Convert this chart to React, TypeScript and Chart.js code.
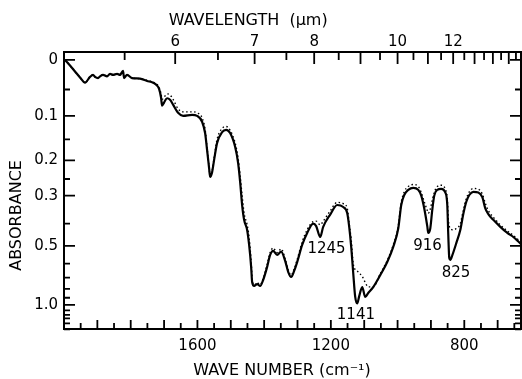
import React, { useEffect, useRef } from "react";
import { Chart, registerables } from "chart.js";

Chart.register(...registerables);

// ---- Data (wave number in cm^-1, absorbance) ----
const wavenumbers = [
  1997, 1982, 1967, 1952, 1937, 1922, 1913, 1907, 1898, 1892,
  1883, 1871, 1862, 1853, 1841, 1832, 1823, 1820, 1811, 1796,
  1772, 1751, 1733, 1721, 1715, 1709, 1706, 1700, 1691, 1682,
  1673, 1658, 1643, 1616, 1601, 1586, 1577, 1571, 1565, 1562,
  1556, 1550, 1541, 1526, 1514, 1502, 1487, 1478, 1472, 1466,
  1460, 1451, 1445, 1439, 1436, 1430, 1421, 1412, 1403, 1391,
  1382, 1373, 1361, 1349, 1337, 1328, 1319, 1310, 1301, 1286,
  1271, 1253, 1244, 1232, 1223, 1202, 1181, 1163, 1151, 1145,
  1139, 1133, 1127, 1121, 1115, 1106, 1097, 1088, 1073, 1052,
  1031, 1013, 998, 989, 980, 968, 953, 938, 929, 920,
  911, 908, 902, 896, 890, 881, 869, 857, 851, 848,
  845, 842, 836, 824, 812, 803, 794, 785, 773, 758,
  746, 737, 728, 713, 692, 671, 653, 638, 630,
];

const absorbanceSolid = [
  0, 0.009, 0.019, 0.029, 0.038, 0.028, 0.0245, 0.028, 0.03, 0.027,
  0.0245, 0.027, 0.023, 0.0245, 0.023, 0.0245, 0.018, 0.03, 0.0245, 0.03,
  0.031, 0.035, 0.038, 0.043, 0.049, 0.065, 0.08, 0.074, 0.066, 0.069,
  0.078, 0.094, 0.1, 0.098, 0.1, 0.112, 0.136, 0.175, 0.22, 0.244,
  0.231, 0.199, 0.158, 0.134, 0.129, 0.136, 0.167, 0.207, 0.258, 0.331,
  0.385, 0.426, 0.495, 0.621, 0.736, 0.772, 0.754, 0.772, 0.719, 0.621,
  0.548, 0.526, 0.548, 0.53, 0.583, 0.655, 0.694, 0.648, 0.59, 0.495,
  0.439, 0.4, 0.41, 0.457, 0.413, 0.365, 0.331, 0.338, 0.359, 0.413,
  0.505, 0.663, 0.89, 0.98, 0.88, 0.782, 0.89, 0.844, 0.782, 0.68,
  0.59, 0.505, 0.42, 0.331, 0.298, 0.282, 0.276, 0.282, 0.3, 0.343,
  0.41, 0.439, 0.42, 0.348, 0.3, 0.282, 0.279, 0.29, 0.331, 0.448,
  0.566, 0.577, 0.55, 0.486, 0.426, 0.363, 0.32, 0.298, 0.288, 0.29,
  0.305, 0.343, 0.363, 0.385, 0.413, 0.439, 0.457, 0.478, 0.49,
];

const absorbanceDotted = [
  0, 0.009, 0.019, 0.029, 0.038, 0.028, 0.0245, 0.028, 0.03, 0.027,
  0.0245, 0.027, 0.023, 0.0245, 0.023, 0.0245, 0.02, 0.027, 0.0245, 0.03,
  0.031, 0.034, 0.037, 0.041, 0.046, 0.058, 0.068, 0.064, 0.058, 0.06,
  0.068, 0.086, 0.092, 0.092, 0.094, 0.104, 0.128, 0.17, 0.218, 0.242,
  0.228, 0.194, 0.15, 0.126, 0.122, 0.13, 0.158, 0.195, 0.24, 0.3,
  0.36, 0.405, 0.46, 0.585, 0.7, 0.765, 0.74, 0.76, 0.705, 0.605,
  0.535, 0.51, 0.535, 0.515, 0.57, 0.64, 0.68, 0.635, 0.575, 0.48,
  0.425, 0.392, 0.39, 0.405, 0.39, 0.352, 0.322, 0.326, 0.342, 0.4,
  0.47, 0.6, 0.64, 0.65, 0.665, 0.69, 0.74, 0.78, 0.78, 0.67,
  0.58, 0.495, 0.41, 0.322, 0.288, 0.272, 0.266, 0.272, 0.29, 0.32,
  0.35, 0.36, 0.345, 0.315, 0.29, 0.272, 0.268, 0.28, 0.31, 0.38,
  0.41, 0.42, 0.425, 0.42, 0.4, 0.35, 0.31, 0.288, 0.278, 0.28,
  0.295, 0.325, 0.35, 0.375, 0.405, 0.43, 0.45, 0.47, 0.482,
];

// ---- Axis ticks ----
const wavenumberTicks = [1600, 1200, 800];
const wavelengthTicks = [6, 7, 8, 10, 12];
const absorbanceTicks = [0, 0.1, 0.2, 0.3, 0.5, 1.0];
const absorbanceTickLabels = ["0", "0.1", "0.2", "0.3", "0.5", "1.0"];
const absorbanceMinorTicks = [0.05, 0.15, 0.25, 0.4, 0.6, 0.7, 0.8, 0.9, 1.1, 1.2, 1.3, 1.5, 2.0];
const wavenumberMinorTicks = [1950, 1900, 1850, 1800, 1750, 1700, 1650, 1600, 1550, 1500, 1450, 1400, 1350, 1300, 1250, 1200, 1150, 1100, 1050, 1000, 950, 900, 850, 800, 750, 700, 650];
const wavelengthMinorTicks = [5.5, 6, 6.5, 7, 7.5, 8, 8.5, 9, 9.5, 10, 10.5, 11, 11.5, 12, 12.5, 13, 13.5, 14, 14.5, 15, 15.5];

// ---- Peak annotations ----
const peakLabels = ["1245", "1141", "916", "825"];
const peakWavenumbers = [1213, 1125, 910, 825];
const peakAbsorbance = [0.516, 1.204, 0.503, 0.667];

const X_MIN = 630;
const X_MAX = 2000;
const T_MIN = 0.011;
const T_MAX = 1.029;

const FONT = "'DejaVu Sans', sans-serif";
const toT = (a: number) => Math.pow(10, -a);

const decorPlugin = {
  id: "decor",
  afterDraw(chart: any) {
    const { ctx, chartArea: ca, scales } = chart;
    const xs = scales.x;
    const ys = scales.y;
    ctx.save();
    ctx.strokeStyle = "#000";
    ctx.fillStyle = "#000";
    // frame
    ctx.lineWidth = 2;
    ctx.strokeRect(ca.left, ca.top, ca.right - ca.left, ca.bottom - ca.top);
    ctx.lineWidth = 1.8;
    ctx.beginPath();
    // left / right ticks
    const yTick = (a: number, len: number) => {
      const y = ys.getPixelForValue(toT(a));
      ctx.moveTo(ca.left, y);
      ctx.lineTo(ca.left + len, y);
      ctx.moveTo(ca.right, y);
      ctx.lineTo(ca.right - len, y);
    };
    absorbanceTicks.forEach((a) => yTick(a, 11));
    absorbanceMinorTicks.forEach((a) => yTick(a, 6));
    // bottom ticks
    wavenumberMinorTicks.forEach((v) => {
      const x = xs.getPixelForValue(v);
      const len = v % 100 === 0 ? 9 : 6;
      ctx.moveTo(x, ca.bottom);
      ctx.lineTo(x, ca.bottom - len);
    });
    // top ticks
    wavelengthMinorTicks.forEach((l) => {
      const v = 10000 / l;
      if (v < X_MIN || v > X_MAX) return;
      const x = xs.getPixelForValue(v);
      const len = Number.isInteger(l) ? 12 : 8;
      ctx.moveTo(x, ca.top);
      ctx.lineTo(x, ca.top + len);
    });
    ctx.stroke();

    // peak labels
    ctx.font = `15px ${FONT}`;
    ctx.textAlign = "center";
    ctx.textBaseline = "middle";
    peakLabels.forEach((t, i) => {
      const x = xs.getPixelForValue(peakWavenumbers[i]);
      const y = ys.getPixelForValue(toT(peakAbsorbance[i]));
      ctx.fillText(t, x, y);
    });

    // axis titles
    ctx.font = `16px ${FONT}`;
    ctx.fillText("WAVELENGTH  (\u03bcm)", ca.left + (ca.right - ca.left) * 0.403, ca.top - 31);
    ctx.fillText("WAVE NUMBER (cm\u207b\u00b9)", ca.left + (ca.right - ca.left) * 0.477, ca.bottom + 42);
    ctx.save();
    ctx.translate(17, ca.top + (ca.bottom - ca.top) * 0.59);
    ctx.rotate(-Math.PI / 2);
    ctx.fillText("ABSORBANCE", 0, 0);
    ctx.restore();
    ctx.restore();
  },
};

export default function App() {
  const canvasRef = useRef<HTMLCanvasElement | null>(null);

  useEffect(() => {
    const canvas = canvasRef.current;
    if (!canvas) return;
    const solid = wavenumbers.map((v, i) => ({ x: v, y: toT(absorbanceSolid[i]) }));
    const dotted = wavenumbers.map((v, i) => ({ x: v, y: toT(absorbanceDotted[i]) }));
    const tickFont = { family: FONT, size: 15 };

    const chart = new Chart(canvas, {
      type: "line",
      data: {
        datasets: [
          {
            data: dotted,
            borderColor: "#000",
            borderWidth: 1.4,
            borderDash: [1.5, 2.5],
            pointRadius: 0,
            fill: false,
            cubicInterpolationMode: "monotone",
            xAxisID: "x",
            yAxisID: "y",
          },
          {
            data: solid,
            borderColor: "#000",
            borderWidth: 2.2,
            pointRadius: 0,
            fill: false,
            cubicInterpolationMode: "monotone",
            xAxisID: "x",
            yAxisID: "y",
          },
        ],
      },
      options: {
        responsive: false,
        maintainAspectRatio: false,
        devicePixelRatio: 1,
        animation: false,
        events: [],
        layout: { padding: { left: 0, right: 1, top: 0, bottom: 0 }, autoPadding: false },
        plugins: { legend: { display: false }, tooltip: { enabled: false }, title: { display: false } },
        scales: {
          x: {
            type: "linear",
            position: "bottom",
            reverse: true,
            min: X_MIN,
            max: X_MAX,
            grid: { display: false, drawTicks: false },
            border: { display: false },
            afterBuildTicks: (s: any) => {
              s.ticks = wavenumberTicks.map((v) => ({ value: v }));
            },
            afterFit: (s: any) => {
              s.height = 50;
            },
            ticks: {
              autoSkip: false,
              maxRotation: 0,
              padding: 8,
              color: "#000",
              font: tickFont,
              callback: (v: any) => String(v),
            },
          },
          x2: {
            type: "linear",
            position: "top",
            reverse: true,
            min: X_MIN,
            max: X_MAX,
            grid: { display: false, drawTicks: false },
            border: { display: false },
            afterBuildTicks: (s: any) => {
              s.ticks = wavelengthTicks.map((l) => ({ value: 10000 / l }));
            },
            afterFit: (s: any) => {
              s.height = 52;
            },
            ticks: {
              autoSkip: false,
              maxRotation: 0,
              padding: 1,
              color: "#000",
              font: tickFont,
              callback: (_v: any, i: number) => String(wavelengthTicks[i]),
            },
          },
          y: {
            type: "linear",
            position: "left",
            min: T_MIN,
            max: T_MAX,
            grid: { display: false, drawTicks: false },
            border: { display: false },
            afterBuildTicks: (s: any) => {
              s.ticks = absorbanceTicks.map((a) => ({ value: toT(a) }));
            },
            afterFit: (s: any) => {
              s.width = 64;
            },
            ticks: {
              autoSkip: false,
              padding: 6,
              color: "#000",
              font: tickFont,
              callback: (_v: any, i: number) => absorbanceTickLabels[i],
            },
          },
        },
      } as any,
      plugins: [decorPlugin],
    });
    return () => chart.destroy();
  }, []);

  return (
    <div style={{ position: "fixed", left: 0, top: 0, width: 522, height: 379, background: "#fff" }}>
      <canvas ref={canvasRef} width={522} height={379} style={{ display: "block" }} />
    </div>
  );
}
